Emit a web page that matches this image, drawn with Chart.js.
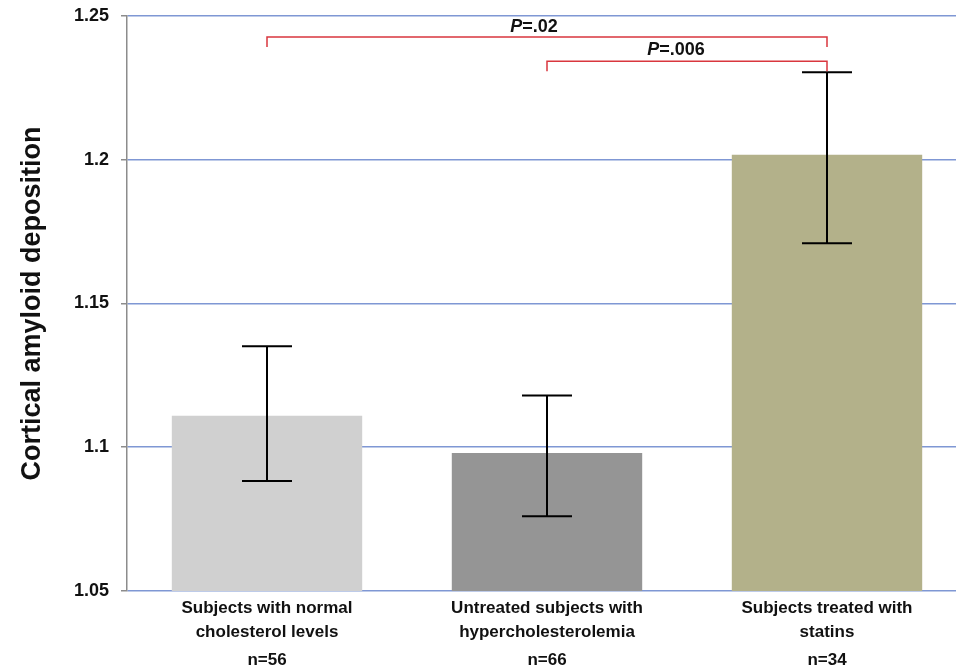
<!DOCTYPE html>
<html>
<head>
<meta charset="utf-8">
<script src="https://cdn.jsdelivr.net/npm/chart.js@4.4.0/dist/chart.umd.min.js"></script>
<style>
  html, body { margin: 0; padding: 0; background: #fff; overflow: hidden; }
  #wrap { width: 967px; height: 669px; }
</style>
</head>
<body>
<div id="wrap"><canvas id="chart" width="967" height="669"></canvas></div>
<script>
// data
const groups = [
  ['Subjects with normal', 'cholesterol levels'],
  ['Untreated subjects with', 'hypercholesterolemia'],
  ['Subjects treated with', 'statins']
];
const sampleSizes = ['n=56', 'n=66', 'n=34'];
const means = [1.111, 1.098, 1.2017];
const errLow = [1.0883, 1.076, 1.171];
const errHigh = [1.1351, 1.118, 1.2304];
const barColors = ['#d0d0d0', '#959595', '#b3b18a'];
const yTicks = [1.05, 1.1, 1.15, 1.2, 1.25];

// significance brackets: [from bar, to bar, bar level, tick end, label level, p text]
const brackets = [
  { from: 0, to: 2, y: 1.2427, yEnd: 1.2392, yText: 1.2462, p: '.02', shift: -13 },
  { from: 1, to: 2, y: 1.2343, yEnd: 1.2308, yText: 1.2382, p: '.006', shift: -11 }
];

const FAMILY = "'Liberation Sans', Arial, sans-serif";
const labelFont = "bold 17px " + FAMILY;
const pFontSize = 18;

const errorBars = {
  id: 'errorBars',
  afterDatasetsDraw(chart) {
    const ctx = chart.ctx;
    const y = chart.scales.y;
    const meta = chart.getDatasetMeta(0);
    ctx.save();
    ctx.strokeStyle = '#000';
    ctx.lineWidth = 2;
    meta.data.forEach((bar, i) => {
      const top = y.getPixelForValue(errHigh[i]);
      const bot = y.getPixelForValue(errLow[i]);
      ctx.beginPath();
      ctx.moveTo(bar.x, top); ctx.lineTo(bar.x, bot);
      ctx.moveTo(bar.x - 25, top); ctx.lineTo(bar.x + 25, top);
      ctx.moveTo(bar.x - 25, bot); ctx.lineTo(bar.x + 25, bot);
      ctx.stroke();
    });
    ctx.restore();
  }
};

const sigBrackets = {
  id: 'sigBrackets',
  afterDraw(chart) {
    const ctx = chart.ctx;
    const y = chart.scales.y;
    const meta = chart.getDatasetMeta(0);
    ctx.save();
    brackets.forEach(b => {
      const x1 = meta.data[b.from].x, x2 = meta.data[b.to].x;
      const yl = y.getPixelForValue(b.y), ye = y.getPixelForValue(b.yEnd);
      ctx.strokeStyle = '#d9363e';
      ctx.lineWidth = 1.5;
      ctx.beginPath();
      ctx.moveTo(x1, ye); ctx.lineTo(x1, yl); ctx.lineTo(x2, yl); ctx.lineTo(x2, ye);
      ctx.stroke();
      // "P" italic bold, rest bold
      const cx = (x1 + x2) / 2 + b.shift;
      const ty = y.getPixelForValue(b.yText);
      const pFont = 'italic bold ' + pFontSize + 'px ' + FAMILY;
      const rFont = 'bold ' + pFontSize + 'px ' + FAMILY;
      ctx.font = pFont;
      const wP = ctx.measureText('P').width;
      ctx.font = rFont;
      const rest = '=' + b.p;
      const wR = ctx.measureText(rest).width;
      const start = cx - (wP + wR) / 2;
      ctx.fillStyle = '#111';
      ctx.textBaseline = 'middle';
      ctx.textAlign = 'left';
      ctx.font = pFont;
      ctx.fillText('P', start, ty);
      ctx.font = rFont;
      ctx.fillText(rest, start + wP, ty);
    });
    // sample sizes under the category labels
    ctx.fillStyle = '#111';
    ctx.font = labelFont;
    ctx.textAlign = 'center';
    ctx.textBaseline = 'middle';
    meta.data.forEach((bar, i) => {
      ctx.fillText(sampleSizes[i], bar.x, 660);
    });
    ctx.restore();
  }
};

new Chart(document.getElementById('chart'), {
  type: 'bar',
  data: {
    labels: groups,
    datasets: [{
      data: means,
      backgroundColor: barColors,
      borderWidth: 0,
      barPercentage: 0.68,
      categoryPercentage: 1.0
    }]
  },
  options: {
    responsive: false,
    animation: false,
    layout: { padding: { top: 16, left: 16, right: 0, bottom: 0 } },
    plugins: {
      legend: { display: false },
      tooltip: { enabled: false }
    },
    scales: {
      x: {
        grid: { display: false, drawTicks: false },
        border: { display: false },
        ticks: {
          color: '#111',
          font: { family: FAMILY, size: 17, weight: 'bold', lineHeight: 1.41 },
          padding: 5,
          maxRotation: 0,
          autoSkip: false
        },
        afterFit(axis) { axis.height = 669 - 591; }
      },
      y: {
        min: 1.05,
        max: 1.25,
        afterBuildTicks(axis) { axis.ticks = yTicks.map(v => ({ value: v })); },
        grid: {
          color: '#7f97d4',
          lineWidth: 1.5,
          tickColor: '#8c8c8c',
          tickLength: 6
        },
        border: { display: true, color: '#8c8c8c', width: 1.5 },
        ticks: {
          color: '#111',
          font: { family: FAMILY, size: 18, weight: 'bold' },
          padding: 12,
          callback: v => String(+v.toFixed(2))
        },
        title: {
          display: true,
          text: 'Cortical amyloid deposition',
          color: '#111',
          font: { family: FAMILY, size: 27, weight: 'bold' },
          padding: { top: 0, bottom: 0 }
        },
        afterFit(axis) {
          axis.width = 127 - 16;
          axis.paddingTop = 0;
          axis.paddingBottom = 0;
        }
      }
    }
  },
  plugins: [errorBars, sigBrackets]
});
</script>
</body>
</html>
